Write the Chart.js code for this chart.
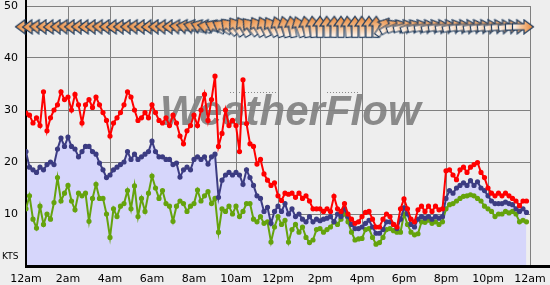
<!DOCTYPE html>
<html>
<head>
<meta charset="utf-8">
<script src="https://cdn.jsdelivr.net/npm/chart.js@4.4.0/dist/chart.umd.min.js"></script>
<style>
  html, body { margin: 0; padding: 0; background: #eeeeee; }
  #windChart { display: block; }
</style>
</head>
<body>
<canvas id="windChart" width="550" height="285"></canvas>
<script>
// wind readings every 10 minutes from midnight, in knots
const gust = [
  29.4, 29, 27.5, 28.5, 27, 33.5,
  26, 28.5, 30, 31, 33.5, 32,
  32.5, 30, 33, 31, 27.5, 31,
  32, 30.5, 32.5, 31, 29.5, 28,
  25, 27.5, 28.5, 29.5, 31, 33.5,
  32.5, 30, 28, 28.5, 29.5, 28.5,
  31, 29.5, 28, 27.5, 28.5, 27,
  29, 27.5, 25, 23.5, 26, 27,
  29, 27, 30, 33, 28, 32,
  36.5, 23, 25.5, 30, 27, 28,
  27, 22, 35.8, 27.4, 23.5, 23,
  19.6, 20.5, 17.7, 16.5, 15.5, 16,
  13.5, 12.6, 14, 13.8, 14, 13.2,
  14, 13, 13.5, 12.5, 11, 11,
  11, 10.5, 11, 10.5, 13.4, 11,
  10.5, 12, 10, 9, 8.2, 8.5,
  9.5, 10.3, 10.5, 9, 7.5, 7.5,
  9, 10, 9.5, 8, 7.5, 11,
  12.9, 11, 9, 8.5, 10.8, 11.5,
  10.5, 11.5, 10.5, 11.5, 10.8, 11,
  18.3, 18.5, 17.5, 16.6, 18.5, 19,
  18, 19, 19.5, 19.9, 18, 17,
  15, 14, 13.5, 14, 13.5, 14,
  13.5, 13, 12.5, 11.6, 12.5, 12.5
];
const avg = [
  22, 19, 18.5, 18, 19, 18.5,
  19.5, 20, 19.5, 22.5, 24.6, 23,
  24.8, 23, 22.5, 21, 22, 23,
  23, 22, 21.5, 19.8, 18.5, 17,
  17.5, 18.5, 19, 19.5, 20, 22,
  20.5, 21.5, 20.5, 21, 21.5, 22,
  24, 22, 21, 21, 20.5, 20.5,
  19.5, 19.8, 17.1, 18.5, 19, 18.5,
  20.5, 21, 20.5, 21, 19.6, 21,
  21.5, 13.2, 16.5, 17.5, 18, 17.5,
  18, 17.5, 15.7, 18.5, 17, 15.5,
  13.5, 13, 10.5, 11.3, 8.2, 10.5,
  11.5, 10.5, 12, 10, 11, 9.5,
  10, 9, 8.5, 9.5, 8.5, 9,
  8.7, 9, 9.2, 9.5, 8.5, 10,
  9.5, 11, 9.5, 8, 7.2, 7.2,
  7.5, 8.2, 8.8, 7.5, 6.3, 6.3,
  7, 8.5, 8.5, 8, 7.2, 9,
  11.2, 10, 8, 7.5, 9, 9.5,
  9.2, 9.5, 9, 9.5, 9.2, 9.5,
  13, 14.5, 14, 15, 15.5, 16,
  15.5, 16.4, 15.5, 16.2, 15, 14.5,
  13.5, 12.5, 12, 12, 12, 12.3,
  12, 11.8, 11, 10.5, 11, 10.3
];
const lull = [
  11, 13.5, 9, 7.3, 11.5, 8,
  10, 9, 12.2, 17, 12.5, 14,
  15.5, 12.5, 10.8, 14, 13.5, 14,
  8.6, 13, 15.7, 13, 13, 10,
  5.5, 11, 9.5, 11.5, 12, 14.5,
  11, 15.4, 9.5, 13, 10.5, 14,
  17.3, 15, 13, 14.5, 12, 11.5,
  8.6, 11.5, 12.5, 12, 10.5, 11.5,
  12, 14.6, 12.5, 13.5, 14.3, 12,
  13, 6.5, 11, 10.5, 11.5, 10,
  11.5, 9.5, 10.5, 12, 12, 9,
  8.5, 9.5, 8.2, 8.5, 4.6, 7.5,
  9.5, 8, 8.8, 4.6, 7, 8,
  6.5, 7.5, 5.5, 4.5, 5, 7,
  7.2, 6.5, 7, 7.5, 8.5, 8,
  9, 10, 8.5, 6.5, 5, 5.2,
  5.3, 7, 7.2, 5.5, 4.2, 4.5,
  5.5, 7, 7.2, 6.8, 6.5, 6.5,
  10, 8, 6.5, 6, 6.2, 8.5,
  8.4, 8.8, 8.2, 8.5, 8, 8.5,
  11, 11.8, 12, 12.5, 13, 13.4,
  13.5, 13.7, 13.5, 13, 12.5, 11.5,
  11, 10.5, 9.5, 10, 10, 10.5,
  10.2, 10.5, 10, 8.5, 8.8, 8.5
];
// direction the wind comes from, degrees, every 20 minutes
const windDir = [
  90, 88, 92, 90, 88, 90, 92, 90, 90, 88, 90, 92, 90, 88, 90, 90, 92, 90, 88, 90, 92, 90, 95, 100, 105,
  110, 100, 115, 120, 135,
  145, 150, 140, 150, 155, 150,
  160, 165, 170, 160, 170, 175,
  180, 178, 182, 180, 175, 180, 178, 180, 182,
  215, 240,
  250, 255, 250, 255, 258, 255, 260, 258, 255, 260, 262, 258, 260, 262, 260, 265, 262, 268, 270
];
const hourLabels = ['12am', '2am', '4am', '6am', '8am', '10am', '12pm', '2pm', '4pm', '6pm', '8pm', '10pm', '12am'];

const ARROW_ROW = 46; // knots level where the direction arrows sit

// arrow glyph pointing right; rotated per reading by Chart.js
function makeArrow() {
  const c = document.createElement('canvas');
  c.width = 24; c.height = 16;
  const g = c.getContext('2d');
  const grad = g.createLinearGradient(1, 0, 23, 0);
  grad.addColorStop(0, '#ffffff');
  grad.addColorStop(0.45, '#f4c194');
  grad.addColorStop(1, '#e8822f');
  g.beginPath();
  g.moveTo(1.5, 5); g.lineTo(13, 5); g.lineTo(13, 1); g.lineTo(22.5, 8);
  g.lineTo(13, 15); g.lineTo(13, 11); g.lineTo(1.5, 11); g.closePath();
  g.fillStyle = grad; g.fill();
  g.strokeStyle = '#1e3a5c'; g.lineWidth = 1.2; g.stroke();
  return c;
}
const arrowImg = makeArrow();

const toPoints = (arr, perHour) => arr.map((v, i) => ({ x: i / perHour, y: v }));

// watermark, axis lines and the KTS label
const decorations = {
  id: 'decorations',
  beforeDraw(chart) {
    const ctx = chart.ctx;
    ctx.save();
    ctx.fillStyle = '#8a8a8a';
    ctx.font = 'italic bold 42px "Liberation Sans"';
    ctx.textBaseline = 'alphabetic';
    ctx.fillText('WeatherFlow', 160, 125);
    ctx.strokeStyle = '#8a8a8a';
    ctx.setLineDash([1, 2]);
    ctx.beginPath();
    ctx.moveTo(230, 92.5); ctx.lineTo(277, 92.5);
    ctx.moveTo(327, 92.5); ctx.lineTo(360, 92.5);
    ctx.stroke();
    ctx.restore();
  },
  beforeDatasetsDraw(chart) {
    const { ctx, chartArea } = chart;
    ctx.save();
    ctx.fillStyle = '#000';
    ctx.fillRect(chartArea.left - 1, 0, 2, chartArea.bottom + 1);
    ctx.fillRect(chartArea.left - 1, chartArea.bottom - 1, chart.width, 3);
    ctx.font = '9px "DejaVu Sans"';
    ctx.textBaseline = 'alphabetic';
    ctx.fillText('KTS', 2, 259);
    ctx.restore();
  }
};

new Chart(document.getElementById('windChart'), {
  type: 'line',
  data: {
    datasets: [
      {
        label: 'Direction',
        data: windDir.map((d, i) => ({ x: i / 3, y: ARROW_ROW })),
        showLine: false,
        pointStyle: arrowImg,
        pointRotation: windDir.map(d => d + 90),
        clip: false
      },
      {
        label: 'Gust',
        data: toPoints(gust, 6),
        borderColor: '#ff0000',
        backgroundColor: '#ff0000',
        borderWidth: 2,
        pointRadius: 1.6
      },
      {
        label: 'Average',
        data: toPoints(avg, 6),
        borderColor: '#3c3c82',
        backgroundColor: '#3c3c82',
        borderWidth: 2,
        pointRadius: 1.6,
        fill: { target: 'origin', above: '#d6d6fb' }
      },
      {
        label: 'Lull',
        data: toPoints(lull, 6),
        borderColor: '#65a30d',
        backgroundColor: '#65a30d',
        borderWidth: 2,
        pointRadius: 1.6
      }
    ]
  },
  options: {
    responsive: false,
    animation: false,
    events: [],
    layout: { padding: { top: 4, right: 20, bottom: 0, left: 0 } },
    plugins: {
      legend: { display: false },
      tooltip: { enabled: false },
      filler: { drawTime: 'beforeDatasetsDraw' }
    },
    scales: {
      x: {
        type: 'linear',
        min: 0, max: 24,
        border: { display: false },
        grid: { color: '#808080', drawTicks: false },
        ticks: {
          stepSize: 2,
          autoSkip: false,
          maxRotation: 0,
          padding: 7,
          color: '#000',
          font: { family: 'DejaVu Sans', size: 11 },
          callback: v => hourLabels[v / 2]
        },
        afterFit: s => { s.height = 19; s.paddingLeft = 0; s.paddingRight = 0; }
      },
      y: {
        min: 0, max: 50,
        border: { display: false },
        grid: { color: '#808080', drawTicks: false },
        ticks: {
          stepSize: 10,
          padding: 8,
          color: '#000',
          font: { family: 'DejaVu Sans', size: 11 },
          callback: v => (v === 0 ? '' : v)
        },
        afterFit: s => { s.width = 26; s.paddingTop = 0; s.paddingBottom = 0; }
      }
    }
  },
  plugins: [decorations]
});
</script>
</body>
</html>
